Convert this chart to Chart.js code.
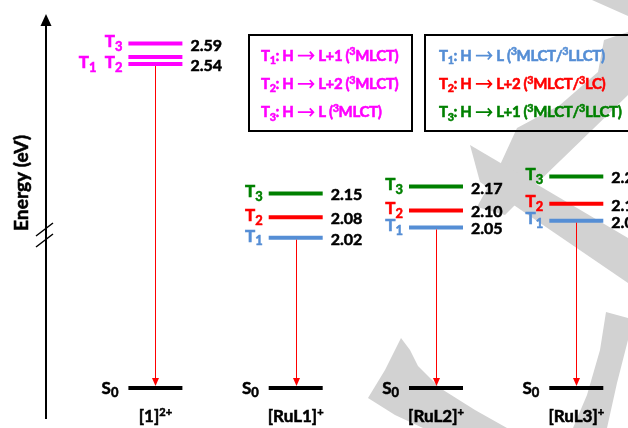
<!DOCTYPE html>
<html>
<head>
<meta charset="utf-8">
<title>Triplet energy levels</title>
<script src="https://cdn.jsdelivr.net/npm/chart.js@4.4.1/dist/chart.umd.min.js"></script>
<style>
  html, body { margin: 0; padding: 0; background: #ffffff; }
  canvas { display: block; }
</style>
</head>
<body>
<canvas id="levelChart" width="628" height="428"></canvas>
<script>
// --- data ---
const complexes = ['[1]', '[RuL1]', '[RuL2]', '[RuL3]'];
const charges = ['2+', '+', '+', '+'];
const t1Energy = [2.54, 2.02, 2.05, 2.07];
const t2Energy = [2.54, 2.08, 2.10, 2.12];
const t3Energy = [2.59, 2.15, 2.17, 2.20];
const s0Energy = [0, 0, 0, 0];

// legend rows: triplet index, acceptor orbital, character
const legendLeft = [['1', 'L+1', ['MLCT']], ['2', 'L+2', ['MLCT']], ['3', 'L', ['MLCT']]];
const legendRight = [['1', 'L', ['MLCT', 'LLCT']], ['2', 'L+2', ['MLCT', 'LC']], ['3', 'L+1', ['MLCT', 'LLCT']]];

const MAGENTA = '#ff00ff';
const BLUE = '#558ed5';
const RED = '#ff0000';
const GREEN = '#008000';
const stateColors = [BLUE, RED, GREEN];
const FONT = 'Lato, "Open Sans", sans-serif';
const HALF = 27; // half length of a level line, px
const HEAVY = 0.55; // extra stroke so the text looks as heavy as the original

const levelColor = (state) => (i) => i === 0 ? MAGENTA : stateColors[state];

const levelSet = (label, values, yAxisID, colorFn) => ({
    label,
    yAxisID,
    data: values.map((y, i) => ({ x: i, y })),
    pointStyle: 'line',
    pointRadius: HALF,
    pointHoverRadius: HALF,
    pointBorderWidth: 4,
    pointHoverBorderWidth: 4,
    pointBorderColor: values.map((_, i) => colorFn(i)),
    showLine: false
});

// --- rich text (sub/superscripts, arrows) ---
function richWidth(ctx, parts, size, small) {
    let w = 0;
    parts.forEach(([text, kind]) => {
        if (kind === 'arrow') { w += size * 1.2; return; }
        ctx.font = `bold ${kind ? size * small : size}px ${FONT}`;
        w += ctx.measureText(text).width;
    });
    return w;
}

function drawRich(ctx, x, y, parts, size, color, align = 'left', small = 0.72, spacing = '0px') {
    ctx.save();
    ctx.letterSpacing = spacing;
    const total = richWidth(ctx, parts, size, small);
    let cx = align === 'right' ? x - total : align === 'center' ? x - total / 2 : x;
    ctx.fillStyle = color;
    ctx.strokeStyle = color;
    ctx.textAlign = 'left';
    ctx.textBaseline = 'alphabetic';
    parts.forEach(([text, kind]) => {
        if (kind === 'arrow') {
            const w = size * 1.2, ay = y - size * 0.34;
            ctx.lineWidth = size * 0.12;
            ctx.beginPath();
            ctx.moveTo(cx + 1, ay);
            ctx.lineTo(cx + w - 1.5, ay);
            ctx.moveTo(cx + w - size * 0.34, ay - size * 0.26);
            ctx.lineTo(cx + w - 1.5, ay);
            ctx.lineTo(cx + w - size * 0.34, ay + size * 0.26);
            ctx.stroke();
            cx += w;
            return;
        }
        const dy = kind === 'sub' ? size * 0.22 : kind === 'sup' ? -size * 0.36 : 0;
        ctx.font = `bold ${kind ? size * small : size}px ${FONT}`;
        ctx.lineWidth = HEAVY;
        ctx.fillText(text, cx, y + dy);
        ctx.strokeText(text, cx, y + dy);
        cx += ctx.measureText(text).width;
    });
    ctx.restore();
}

const legendParts = ([n, orbital, chars]) => {
    const parts = [['T', ''], [n, 'sub'], [': H ', ''], ['', 'arrow'], [' ' + orbital + ' (', '']];
    chars.forEach((c, k) => {
        if (k) parts.push(['/', '']);
        parts.push(['3', 'sup'], [c, '']);
    });
    parts.push([')', '']);
    return parts;
};

// light grey watermark strokes behind the diagram
const watermark = [
    [[592, 0], [628, 0], [628, 16]],
    [[477, 207], [500, 165], [517, 128], [560, 105], [598, 72], [604, 40], [628, 32], [628, 95], [592, 130], [530, 190], [505, 215]],
    [[470, 145], [628, 238], [628, 283], [480, 182]],
    [[606, 312], [628, 318], [628, 340], [617, 383], [607, 428], [573, 428], [587, 395], [600, 350]],
    [[401, 338], [410, 350], [418, 366], [440, 388], [475, 410], [507, 428], [423, 428], [395, 415], [368, 398], [385, 370]]
];

const energyDiagram = {
    id: 'energyDiagram',
    beforeDraw(chart) {
        const { ctx, width, height } = chart;
        ctx.save();
        ctx.fillStyle = '#ffffff';
        ctx.fillRect(0, 0, width, height);
        ctx.fillStyle = '#d2d2d2';
        watermark.forEach(poly => {
            ctx.beginPath();
            poly.forEach(([px, py], k) => k ? ctx.lineTo(px, py) : ctx.moveTo(px, py));
            ctx.closePath();
            ctx.fill();
        });
        ctx.restore();
    },
    afterDatasetsUpdate(chart) {
        // degenerate levels are drawn as a close pair of lines
        const t1 = chart.getDatasetMeta(0).data;
        const t2 = chart.getDatasetMeta(1).data;
        t1Energy.forEach((e, i) => {
            if (e === t2Energy[i]) {
                t1[i].y += 3.5;
                t2[i].y -= 3.5;
            }
        });
    },
    afterDatasetsDraw(chart) {
        const ctx = chart.ctx;
        const xScale = chart.scales.x;
        const levelSets = [t1Energy, t2Energy, t3Energy];
        const t1Meta = chart.getDatasetMeta(0);
        const s0Meta = chart.getDatasetMeta(3);
        ctx.save();

        // energy axis with arrow head and break marks
        ctx.strokeStyle = '#000';
        ctx.fillStyle = '#000';
        ctx.lineWidth = 2;
        ctx.beginPath();
        ctx.moveTo(46, 419);
        ctx.lineTo(46, 24);
        ctx.stroke();
        ctx.beginPath();
        ctx.moveTo(46, 14);
        ctx.lineTo(40.5, 26);
        ctx.lineTo(51.5, 26);
        ctx.closePath();
        ctx.fill();
        ctx.lineWidth = 1.5;
        ctx.beginPath();
        ctx.moveTo(36, 236); ctx.lineTo(53, 223);
        ctx.moveTo(36, 247); ctx.lineTo(53, 234);
        ctx.stroke();

        // axis title
        ctx.save();
        ctx.translate(28, 183);
        ctx.rotate(-Math.PI / 2);
        ctx.font = `bold 18px ${FONT}`;
        const fit = 18 * 96 / ctx.measureText('Energy (eV)').width;
        ctx.font = `bold ${fit}px ${FONT}`;
        ctx.textAlign = 'center';
        ctx.textBaseline = 'alphabetic';
        ctx.lineWidth = HEAVY;
        ctx.fillText('Energy (eV)', 0, 0);
        ctx.strokeText('Energy (eV)', 0, 0);
        ctx.restore();

        // emission arrows T1 -> S0
        complexes.forEach((_, i) => {
            const x = Math.round(t1Meta.data[i].x) + 0.5;
            const top = t1Meta.data[i].y + 2;
            const tip = s0Meta.data[i].y - 2;
            ctx.strokeStyle = RED;
            ctx.fillStyle = RED;
            ctx.lineWidth = 1;
            ctx.beginPath();
            ctx.moveTo(x, top);
            ctx.lineTo(x, tip - 7);
            ctx.stroke();
            ctx.beginPath();
            ctx.moveTo(x, tip);
            ctx.lineTo(x - 3.5, tip - 8);
            ctx.lineTo(x + 3.5, tip - 8);
            ctx.closePath();
            ctx.fill();
        });

        // level labels, values, S0 and complex names
        complexes.forEach((name, i) => {
            const x = xScale.getPixelForValue(i);
            const left = x - HALF, right = x + HALF;
            const groups = [];
            levelSets.forEach((vals, s) => {
                const g = groups.find(gr => levelSets[gr[0]][i] === vals[i]);
                g ? g.push(s) : groups.push([s]);
            });
            groups.forEach(g => {
                const y = Math.max(...g.map(s => chart.getDatasetMeta(s).data[i].y));
                const parts = [];
                g.forEach((s, k) => {
                    if (k) parts.push(['  ', '']);
                    parts.push(['T', ''], [String(s + 1), 'sub']);
                });
                drawRich(ctx, left - 6, y + 3.8, parts, 17, i === 0 ? MAGENTA : stateColors[g[0]], 'right', 0.76);
                drawRich(ctx, right + 8, y + 7, [[levelSets[g[0]][i].toFixed(2), '']], 16, '#000');
            });
            const s0y = s0Meta.data[i].y;
            drawRich(ctx, left - 10, s0y + 5.5, [['S', ''], ['0', 'sub']], 17, '#000', 'right', 0.76);
            drawRich(ctx, x, 422, [[name, ''], [charges[i], 'sup']], 17, '#000', 'center', 0.65);
        });

        // legend boxes
        ctx.strokeStyle = '#000';
        ctx.lineWidth = 2;
        ctx.strokeRect(249, 35, 163, 96);
        ctx.strokeRect(425, 35, 220, 96);
        const rowBase = [60.7, 89, 117.3];
        legendLeft.forEach((row, k) => drawRich(ctx, 261, rowBase[k], legendParts(row), 15, MAGENTA, 'left', 0.72, '-0.35px'));
        legendRight.forEach((row, k) => drawRich(ctx, 439, rowBase[k], legendParts(row), 15, stateColors[k], 'left', 0.72, '-0.35px'));

        ctx.restore();
    }
};

new Chart(document.getElementById('levelChart'), {
    type: 'scatter',
    data: {
        datasets: [
            levelSet('T1', t1Energy, 'y', levelColor(0)),
            levelSet('T2', t2Energy, 'y', levelColor(1)),
            levelSet('T3', t3Energy, 'y', levelColor(2)),
            levelSet('S0', s0Energy, 'yS', () => '#000000')
        ]
    },
    options: {
        responsive: false,
        animation: false,
        events: [],
        layout: { padding: 0, autoPadding: false },
        plugins: {
            legend: { display: false },
            tooltip: { enabled: false }
        },
        scales: {
            x: { type: 'linear', display: false, min: -1.1076, max: 3.3685 },
            // excited states (upper part of the broken axis)
            y: { type: 'linear', display: false, min: 1.4615, max: 2.7177 },
            // ground state (below the axis break)
            yS: { type: 'linear', display: false, min: -0.1, max: 0.97 }
        }
    },
    plugins: [energyDiagram]
});
</script>
</body>
</html>
